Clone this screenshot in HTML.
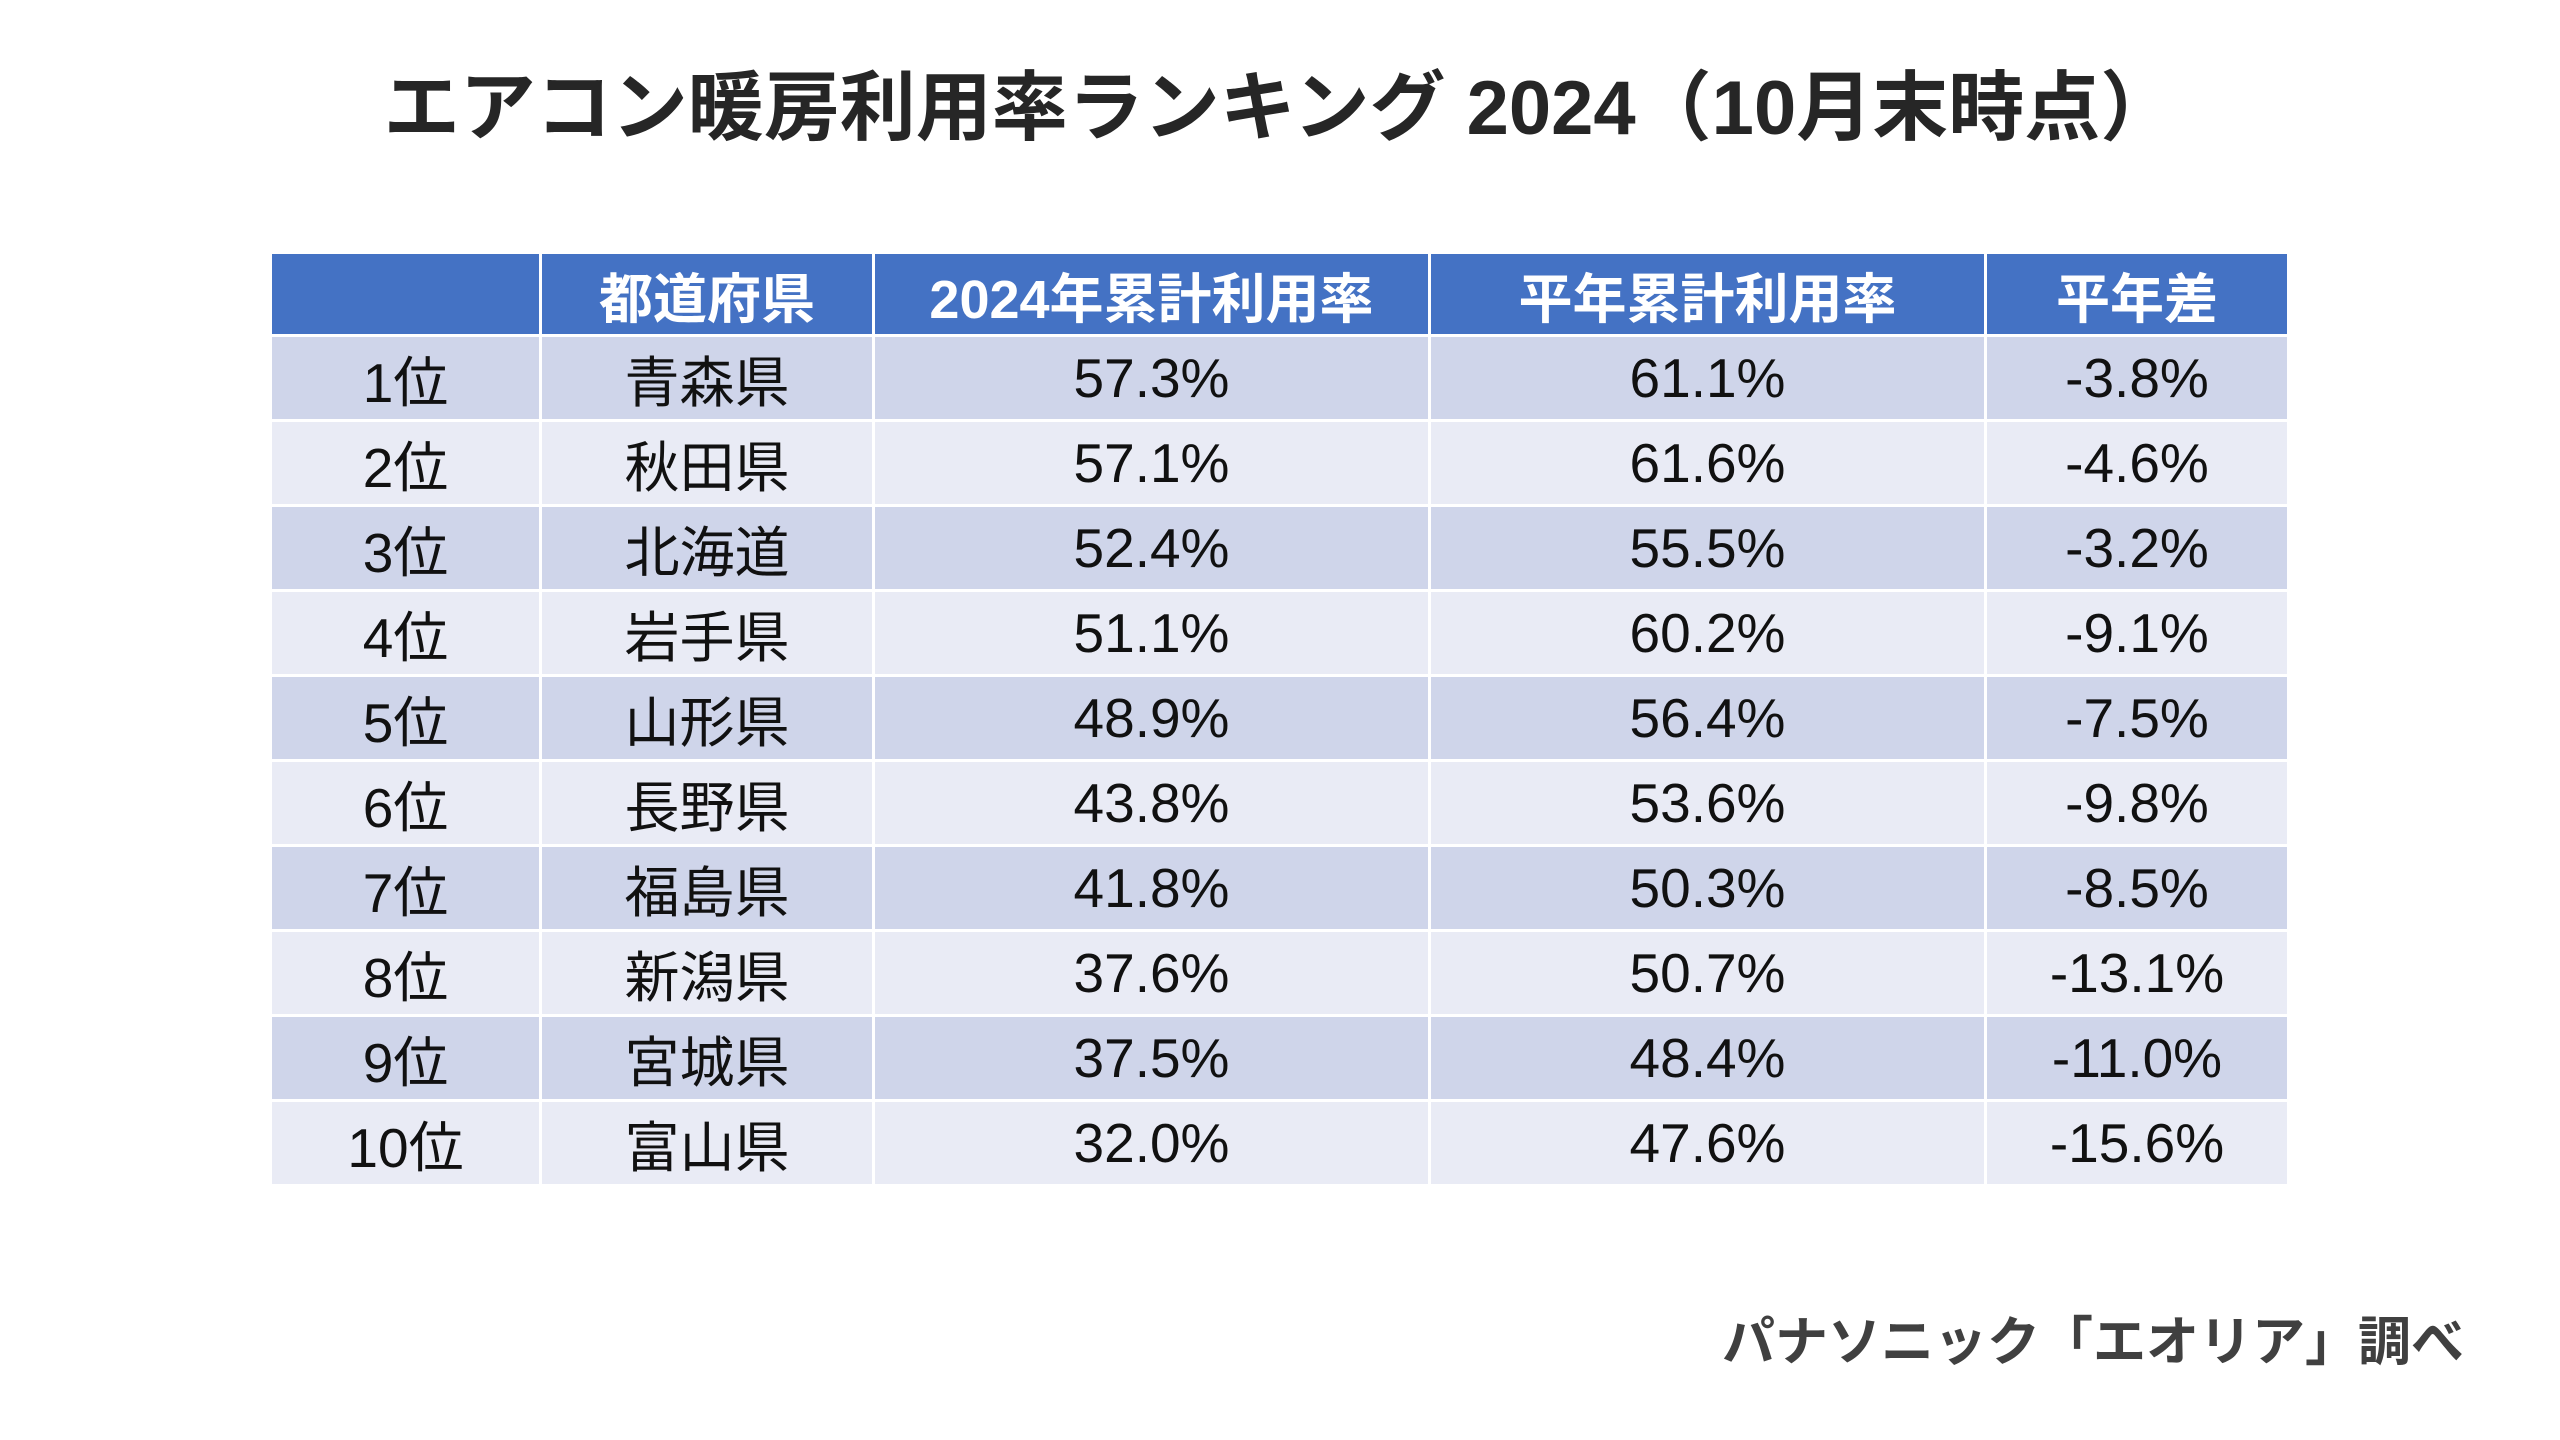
<!DOCTYPE html>
<html><head><meta charset="utf-8"><style>
body{margin:0;width:2560px;height:1440px;background:#fff;position:relative;overflow:hidden;font-family:"Liberation Sans","Noto Sans CJK JP",sans-serif;}
#title{position:absolute;left:0;width:2560px;top:46px;text-align:center;font-size:76px;font-weight:bold;color:#262626;}
table{position:absolute;left:269px;top:251px;border-collapse:collapse;}
td,th{border:3px solid #fff;text-align:center;padding:0;font-size:55px;color:#111;}
th{background:#4472C4;color:#fff;font-weight:bold;height:80px;font-size:54px;}
td{height:82px;}
tr.o td{background:#CFD5EA;}
tr.e td{background:#E9EBF5;}
#src{position:absolute;right:96px;top:1300px;font-size:53px;font-weight:bold;color:#404040;}
</style></head><body>
<div id="title">エアコン暖房利用率ランキング 2024（10月末時点）</div>
<table>
<thead><tr>
<th style="width:267px"></th>
<th style="width:330px">都道府県</th>
<th style="width:553px">2024年累計利用率</th>
<th style="width:553px">平年累計利用率</th>
<th style="width:300px">平年差</th>
</tr></thead>
<tbody id="tb"></tbody>
</table>
<div id="src">パナソニック「エオリア」調べ</div>
<script>
const ranks=["1位","2位","3位","4位","5位","6位","7位","8位","9位","10位"];
const prefs=["青森県","秋田県","北海道","岩手県","山形県","長野県","福島県","新潟県","宮城県","富山県"];
const rate2024=["57.3%","57.1%","52.4%","51.1%","48.9%","43.8%","41.8%","37.6%","37.5%","32.0%"];
const rateNormal=["61.1%","61.6%","55.5%","60.2%","56.4%","53.6%","50.3%","50.7%","48.4%","47.6%"];
const diffs=["-3.8%","-4.6%","-3.2%","-9.1%","-7.5%","-9.8%","-8.5%","-13.1%","-11.0%","-15.6%"];
const tb=document.getElementById('tb');
for(let i=0;i<ranks.length;i++){
  const tr=document.createElement('tr');
  tr.className=i%2?'e':'o';
  
  
  [ranks[i],prefs[i],rate2024[i],rateNormal[i],diffs[i]].forEach(v=>{
    const td=document.createElement('td');
    td.textContent=v;
    
    
    tr.appendChild(td);
  });
  tb.appendChild(tr);
}
</script>
</body></html>
